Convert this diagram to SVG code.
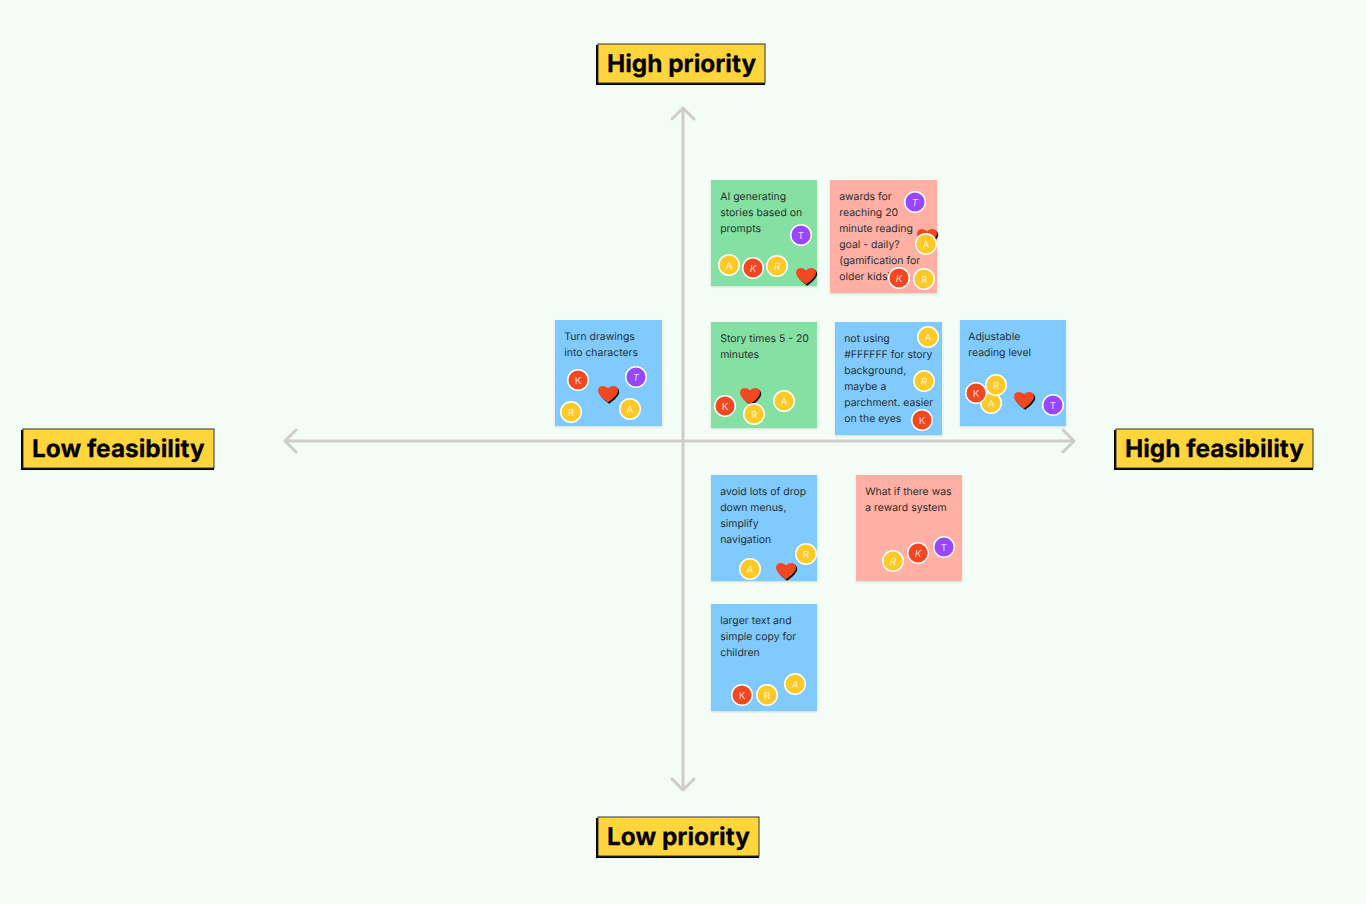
<svg xmlns="http://www.w3.org/2000/svg" width="1366" height="904" viewBox="0 0 1366 904">
<style>
text{font-family:Inter,"Liberation Sans",sans-serif;text-rendering:geometricPrecision}
.t{font-size:10.450px;fill:#26302f;transform:translate(.2px,-.6px)}
.lb{font-size:24.400px;font-weight:700;fill:#000;stroke:#000;stroke-width:.25px;transform:translateY(-.6px)}
.box{fill:#ffd53d;stroke:#333;stroke-width:1}
.sh{fill:#000}
.ax{fill:none;stroke:#cfcccc;stroke-width:3;stroke-linecap:round;stroke-linejoin:round}
.g{fill:#85e0a3}.b{fill:#80caff}.r{fill:#ffafa3}
.n{filter:url(#s)}
.c{stroke:#fff;stroke-width:1.500;r:10.300px}
.cA,.cR{fill:#ffc928}.cK{fill:#f24822}.cT{fill:#9747ff}
.l{font-size:9.800px;fill:#fff;text-anchor:middle;opacity:.8}
.i{font-style:italic}
</style>
<defs>
<filter id="s" x="-10%" y="-10%" width="120%" height="120%"><feDropShadow dx="0" dy="1" stdDeviation="1.200" flood-color="#000" flood-opacity=".14"/></filter>
<path id="hp" d="M0 8.500C-3 6.200-10 1-10-3.300C-10-6.300-7.800-8-5.300-8C-3.200-8-1.200-7-0-5.200C1.200-7 3.200-8 5.300-8C7.800-8 10-6.300 10-3.300C10 1 3 6.200 0 8.500Z"/>
<g id="h"><use href="#hp" x="1.200" y="1.200" fill="#000"/><use href="#hp" fill="#f24822"/></g>
</defs>
<rect width="1366" height="904" fill="#f3fdf6"/>

<g id="connectors">
<path class="ax" d="M683 108V790M672 119L683 108L694 119M672 779L683 790L694 779"/>
<path class="ax" d="M285 441H1074M296 430L285 441L296 452M1063 430L1074 441L1063 452"/>
</g>

<g id="label-high-priority"><rect class="sh" x="596" y="45" width="169" height="40"/><rect class="box" x="598" y="44" width="167" height="39"/><text class="lb" x="607" y="73">High priority</text></g>
<g id="label-low-priority"><rect class="sh" x="596" y="818" width="163" height="40"/><rect class="box" x="598" y="817" width="161" height="39"/><text class="lb" x="607" y="846">Low priority</text></g>
<g id="label-low-feasibility"><rect class="sh" x="21" y="430" width="193" height="40"/><rect class="box" x="23" y="429" width="191" height="39"/><text class="lb" x="32" y="458">Low feasibility</text></g>
<g id="label-high-feasibility"><rect class="sh" x="1114" y="430" width="199" height="40"/><rect class="box" x="1116" y="429" width="197" height="39"/><text class="lb" x="1125" y="458">High feasibility</text></g>

<g id="note-ai">
<rect class="n g" x="711" y="180" width="106" height="106"/>
<text class="t" x="720" y="201">AI generating</text><text class="t" x="720" y="217">stories based on</text><text class="t" x="720" y="233">prompts</text>
<circle class="c cT" cx="801" cy="235" r="10"/><text class="l" x="801" y="238.500">T</text>
<circle class="c cA" cx="729" cy="265" r="10"/><text class="l" x="729" y="268.500">A</text>
<circle class="c cK" cx="753" cy="268" r="10"/><text class="l i" x="753" y="271.500">K</text>
<circle class="c cR" cx="777" cy="266" r="10"/><text class="l i" x="777" y="269.500">R</text>
<use href="#h" x="806" y="276"/>
</g>

<g id="note-awards">
<rect class="n r" x="830" y="180" width="107" height="113"/>
<text class="t" x="839" y="201">awards for</text><text class="t" x="839" y="217">reaching 20</text><text class="t" x="839" y="233">minute reading</text><text class="t" x="839" y="249">goal - daily?</text><text class="t" x="839" y="265">(gamification for</text><text class="t" x="839" y="281">older kids)</text>
<circle class="c cT" cx="915" cy="202" r="10"/><text class="l i" x="915" y="205.500">T</text>
<use href="#h" x="927" y="237"/>
<circle class="c cA" cx="926" cy="244" r="10"/><text class="l" x="926" y="247.500">A</text>
<circle class="c cK" cx="899" cy="278" r="10"/><text class="l i" x="899" y="281.500">K</text>
<circle class="c cR" cx="924" cy="279" r="10"/><text class="l" x="924" y="282.500">R</text>
</g>

<g id="note-drawings">
<rect class="n b" x="555" y="320" width="107" height="106"/>
<text class="t" x="564" y="341">Turn drawings</text><text class="t" x="564" y="357">into characters</text>
<circle class="c cK" cx="578" cy="380" r="10"/><text class="l" x="578" y="383.500">K</text>
<circle class="c cT" cx="636" cy="377" r="10"/><text class="l i" x="636" y="380.500">T</text>
<circle class="c cR" cx="571" cy="412" r="10"/><text class="l" x="571" y="415.500">R</text>
<circle class="c cA" cx="630" cy="409" r="10"/><text class="l" x="630" y="412.500">A</text>
<use href="#h" x="608" y="394"/>
</g>

<g id="note-story">
<rect class="n g" x="711" y="322" width="106" height="106"/>
<text class="t" x="720" y="343">Story times 5 - 20</text><text class="t" x="720" y="359">minutes</text>
<circle class="c cK" cx="725" cy="406" r="10"/><text class="l" x="725" y="409.500">K</text>
<use href="#h" x="750" y="396"/>
<circle class="c cR" cx="754" cy="414" r="10"/><text class="l" x="754" y="417.500">R</text>
<circle class="c cA" cx="784" cy="401" r="10"/><text class="l" x="784" y="404.500">A</text>
</g>

<g id="note-ffffff">
<rect class="n b" x="835" y="322" width="107" height="113"/>
<text class="t" x="844" y="343">not using</text><text class="t" x="844" y="359">#FFFFFF for story</text><text class="t" x="844" y="375">background,</text><text class="t" x="844" y="391">maybe a</text><text class="t" x="844" y="407">parchment. easier</text><text class="t" x="844" y="423">on the eyes</text>
<circle class="c cA" cx="928" cy="337" r="10"/><text class="l" x="928" y="340.500">A</text>
<circle class="c cR" cx="924" cy="381" r="10"/><text class="l i" x="924" y="384.500">R</text>
<circle class="c cK" cx="922" cy="420" r="10"/><text class="l" x="922" y="423.500">K</text>
</g>

<g id="note-reading">
<rect class="n b" x="960" y="320" width="106" height="106"/>
<text class="t" x="968" y="341">Adjustable</text><text class="t" x="968" y="357">reading level</text>
<circle class="c cA" cx="991" cy="403" r="10"/><text class="l" x="991" y="406.500">A</text>
<circle class="c cR" cx="996" cy="385" r="10"/><text class="l" x="996" y="388.500">R</text>
<circle class="c cK" cx="976" cy="393" r="10"/><text class="l" x="976" y="396.500">K</text>
<use href="#h" x="1024" y="400"/>
<circle class="c cT" cx="1053" cy="405" r="10"/><text class="l" x="1053" y="408.500">T</text>
</g>

<g id="note-menus">
<rect class="n b" x="711" y="475" width="106" height="106"/>
<text class="t" x="720" y="496">avoid lots of drop</text><text class="t" x="720" y="512">down menus,</text><text class="t" x="720" y="528">simplify</text><text class="t" x="720" y="544">navigation</text>
<circle class="c cR" cx="806" cy="554" r="10"/><text class="l" x="806" y="557.500">R</text>
<circle class="c cA" cx="750" cy="569" r="10"/><text class="l i" x="750" y="572.500">A</text>
<use href="#h" x="786" y="571"/>
</g>

<g id="note-reward">
<rect class="n r" x="856" y="475" width="106" height="106"/>
<text class="t" x="865" y="496">What if there was</text><text class="t" x="865" y="512">a reward system</text>
<circle class="c cR" cx="893" cy="561" r="10"/><text class="l i" x="893" y="564.500">R</text>
<circle class="c cK" cx="918" cy="553" r="10"/><text class="l i" x="918" y="556.500">K</text>
<circle class="c cT" cx="944" cy="547" r="10"/><text class="l" x="944" y="550.500">T</text>
</g>

<g id="note-larger">
<rect class="n b" x="711" y="604" width="106" height="107"/>
<text class="t" x="720" y="625">larger text and</text><text class="t" x="720" y="641">simple copy for</text><text class="t" x="720" y="657">children</text>
<circle class="c cK" cx="742" cy="695" r="10"/><text class="l" x="742" y="698.500">K</text>
<circle class="c cR" cx="767" cy="695" r="10"/><text class="l" x="767" y="698.500">R</text>
<circle class="c cA" cx="795" cy="684" r="10"/><text class="l i" x="795" y="687.500">A</text>
</g>
</svg>
